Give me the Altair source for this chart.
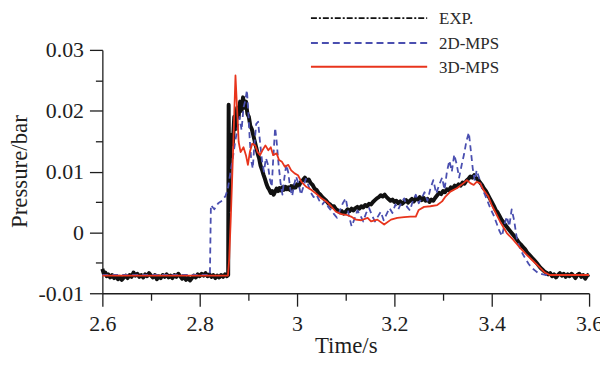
import altair as alt
import pandas as pd

# ---------------- data ----------------
series_names = ["EXP.", "2D-MPS", "3D-MPS"]

x_ticks = [2.6, 2.7, 2.8, 2.9, 3.0, 3.1, 3.2, 3.3, 3.4, 3.5, 3.6]
y_ticks = [-0.01, -0.005, 0.0, 0.005, 0.01, 0.015, 0.02, 0.025, 0.03]

exp_t = [
    2.600, 2.603, 2.606, 2.609, 2.612, 2.616, 2.620, 2.624, 2.628, 2.632,
    2.636, 2.640, 2.644, 2.648, 2.652, 2.656, 2.660, 2.664, 2.668, 2.672,
    2.676, 2.680, 2.684, 2.688, 2.692, 2.696, 2.700, 2.704, 2.708, 2.712,
    2.716, 2.720, 2.724, 2.728, 2.732, 2.736, 2.740, 2.744, 2.748, 2.752,
    2.756, 2.760, 2.764, 2.768, 2.772, 2.776, 2.780, 2.784, 2.788, 2.792,
    2.796, 2.800, 2.804, 2.808, 2.812, 2.816, 2.820, 2.824, 2.828, 2.832,
    2.836, 2.840, 2.844, 2.848, 2.852, 2.856, 2.8585, 2.8595, 2.8605, 2.862,
    2.865, 2.868, 2.871, 2.874, 2.877, 2.880, 2.883, 2.886, 2.889, 2.892,
    2.895, 2.898, 2.901, 2.904, 2.907, 2.910, 2.913, 2.916, 2.919, 2.922,
    2.925, 2.928, 2.931, 2.934, 2.937, 2.940, 2.943, 2.946, 2.949, 2.952,
    2.955, 2.958, 2.961, 2.964, 2.967, 2.970, 2.973, 2.976, 2.979, 2.982,
    2.985, 2.988, 2.991, 2.994, 2.997, 3.000, 3.004, 3.008, 3.012, 3.016,
    3.020, 3.024, 3.028, 3.032, 3.036, 3.040, 3.044, 3.048, 3.052, 3.056,
    3.060, 3.064, 3.068, 3.072, 3.076, 3.080, 3.084, 3.088, 3.092, 3.096,
    3.100, 3.104, 3.108, 3.112, 3.116, 3.120, 3.124, 3.128, 3.132, 3.136,
    3.140, 3.144, 3.148, 3.152, 3.156, 3.160, 3.164, 3.168, 3.172, 3.176,
    3.180, 3.184, 3.188, 3.192, 3.196, 3.200, 3.204, 3.208, 3.212, 3.216,
    3.220, 3.224, 3.228, 3.232, 3.236, 3.240, 3.244, 3.248, 3.252, 3.256,
    3.260, 3.264, 3.268, 3.272, 3.276, 3.280, 3.284, 3.288, 3.292, 3.296,
    3.300, 3.304, 3.308, 3.312, 3.316, 3.320, 3.324, 3.328, 3.332, 3.336,
    3.340, 3.344, 3.348, 3.352, 3.356, 3.360, 3.364, 3.368, 3.372, 3.376,
    3.380, 3.384, 3.388, 3.392, 3.396, 3.400, 3.404, 3.408, 3.412, 3.416,
    3.420, 3.424, 3.428, 3.432, 3.436, 3.440, 3.444, 3.448, 3.452, 3.456,
    3.460, 3.464, 3.468, 3.472, 3.476, 3.480, 3.484, 3.488, 3.492, 3.496,
    3.500, 3.504, 3.508, 3.512, 3.516, 3.520, 3.524, 3.528, 3.532, 3.536,
    3.540, 3.544, 3.548, 3.552, 3.556, 3.560, 3.564, 3.568, 3.572, 3.576,
    3.580, 3.584, 3.588, 3.592, 3.596, 3.600,
]
exp_p = [
    -0.0060, -0.0068, -0.0066, -0.0072, -0.0069, -0.0074, -0.0070, -0.0075, -0.0072, -0.0077,
    -0.0073, -0.0078, -0.0074, -0.0071, -0.0075, -0.0070, -0.0073, -0.0066, -0.0071, -0.0068,
    -0.0073, -0.0070, -0.0074, -0.0069, -0.0072, -0.0067, -0.0071, -0.0074, -0.0070, -0.0077,
    -0.0072, -0.0075, -0.0070, -0.0073, -0.0069, -0.0074, -0.0071, -0.0075, -0.0070, -0.0073,
    -0.0068, -0.0072, -0.0076, -0.0073, -0.0078, -0.0074, -0.0079, -0.0075, -0.0071, -0.0074,
    -0.0069, -0.0072, -0.0068, -0.0071, -0.0067, -0.0072, -0.0069, -0.0073, -0.0070, -0.0075,
    -0.0071, -0.0074, -0.0070, -0.0073, -0.0069, -0.0072, -0.0070, 0.0210, 0.0036, 0.0120,
    0.0160, 0.0145, 0.0190, 0.0170, 0.0205, 0.0190, 0.0215, 0.0200, 0.0222, 0.0205,
    0.0215, 0.0195, 0.0190, 0.0175, 0.0170, 0.0160, 0.0150, 0.0140, 0.0130, 0.0122,
    0.0110, 0.0103, 0.0095, 0.0088, 0.0080, 0.0074, 0.0070, 0.0065, 0.0068, 0.0062,
    0.0067, 0.0072, 0.0068, 0.0073, 0.0069, 0.0074, 0.0070, 0.0075, 0.0071, 0.0074,
    0.0070, 0.0076, 0.0072, 0.0077, 0.0074, 0.0079, 0.0077, 0.0083, 0.0086, 0.0090,
    0.0085, 0.0087, 0.0081, 0.0078, 0.0072, 0.0070, 0.0065, 0.0062, 0.0058, 0.0055,
    0.0052, 0.0048, 0.0046, 0.0042, 0.0043, 0.0038, 0.0036, 0.0033, 0.0035, 0.0031,
    0.0034, 0.0038, 0.0035, 0.0039, 0.0036, 0.0040, 0.0042, 0.0039, 0.0043, 0.0041,
    0.0045, 0.0043, 0.0047, 0.0046, 0.0050, 0.0053, 0.0056, 0.0058, 0.0061, 0.0059,
    0.0062, 0.0058, 0.0055, 0.0052, 0.0054, 0.0050, 0.0052, 0.0048, 0.0051, 0.0047,
    0.0050, 0.0053, 0.0049, 0.0052, 0.0055, 0.0051, 0.0056, 0.0054, 0.0058, 0.0053,
    0.0057, 0.0052, 0.0055, 0.0050, 0.0054, 0.0052, 0.0057, 0.0061, 0.0065, 0.0063,
    0.0068, 0.0066, 0.0071, 0.0069, 0.0074, 0.0072, 0.0077, 0.0075, 0.0079, 0.0077,
    0.0082, 0.0080, 0.0085, 0.0088, 0.0092, 0.0090, 0.0094, 0.0089, 0.0087, 0.0082,
    0.0078, 0.0072, 0.0068, 0.0062, 0.0056, 0.0050, 0.0044, 0.0037, 0.0033, 0.0027,
    0.0021, 0.0017, 0.0012, 0.0008, 0.0004, 0.0000, -0.0004, -0.0008, -0.0012, -0.0017,
    -0.0020, -0.0024, -0.0027, -0.0032, -0.0036, -0.0039, -0.0043, -0.0046, -0.0050, -0.0054,
    -0.0058, -0.0061, -0.0064, -0.0066, -0.0069, -0.0067, -0.0072, -0.0069, -0.0074, -0.0070,
    -0.0067, -0.0071, -0.0068, -0.0073, -0.0069, -0.0072, -0.0068, -0.0071, -0.0075, -0.0070,
    -0.0068, -0.0073, -0.0070, -0.0076, -0.0071, -0.0069,
]

mps2_t = [
    2.600, 2.821, 2.823, 2.830, 2.838, 2.846, 2.853, 2.858, 2.863, 2.868,
    2.873, 2.878, 2.882, 2.886, 2.890, 2.894, 2.897, 2.900, 2.903, 2.906,
    2.909, 2.912, 2.916, 2.920, 2.924, 2.928, 2.932, 2.936, 2.940, 2.944,
    2.948, 2.951, 2.955, 2.958, 2.962, 2.966, 2.970, 2.974, 2.978, 2.982,
    2.986, 2.990, 2.994, 2.998, 3.003, 3.008, 3.013, 3.018, 3.023, 3.028,
    3.034, 3.040, 3.046, 3.052, 3.058, 3.064, 3.070, 3.076, 3.082, 3.088,
    3.094, 3.100, 3.106, 3.112, 3.118, 3.124, 3.130, 3.136, 3.142, 3.148,
    3.154, 3.160, 3.166, 3.172, 3.178, 3.184, 3.190, 3.196, 3.202, 3.208,
    3.214, 3.220, 3.226, 3.232, 3.238, 3.244, 3.250, 3.256, 3.262, 3.268,
    3.274, 3.280, 3.286, 3.292, 3.298, 3.303, 3.308, 3.313, 3.318, 3.323,
    3.328, 3.333, 3.338, 3.343, 3.348, 3.353, 3.357, 3.361, 3.365, 3.369,
    3.374, 3.380, 3.386, 3.392, 3.398, 3.404, 3.410, 3.416, 3.421, 3.426,
    3.431, 3.436, 3.441, 3.446, 3.452, 3.458, 3.464, 3.470, 3.476, 3.482,
    3.488, 3.494, 3.500, 3.510, 3.600,
]
mps2_p = [
    -0.0070, -0.0070, 0.0045, 0.0038, 0.0048, 0.0052, 0.0060, 0.0072, 0.0098, 0.0122,
    0.0150, 0.0172, 0.0190, 0.0168, 0.0205, 0.0218, 0.0234, 0.0196, 0.0150, 0.0118,
    0.0105, 0.0140, 0.0178, 0.0182, 0.0148, 0.0118, 0.0100, 0.0122, 0.0112, 0.0088,
    0.0075, 0.0120, 0.0172, 0.0150, 0.0112, 0.0082, 0.0062, 0.0090, 0.0112, 0.0098,
    0.0072, 0.0060, 0.0078, 0.0092, 0.0080, 0.0062, 0.0075, 0.0088, 0.0078, 0.0066,
    0.0058, 0.0062, 0.0052, 0.0046, 0.0052, 0.0042, 0.0036, 0.0030, 0.0024, 0.0036,
    0.0048, 0.0056, 0.0030, 0.0010, 0.0022, 0.0036, 0.0028, 0.0018, 0.0032, 0.0040,
    0.0028, 0.0018, 0.0026, 0.0034, 0.0020, 0.0030, 0.0040, 0.0032, 0.0046, 0.0038,
    0.0048, 0.0056, 0.0042, 0.0036, 0.0052, 0.0062, 0.0048, 0.0056, 0.0066, 0.0052,
    0.0072, 0.0086, 0.0064, 0.0078, 0.0090, 0.0070, 0.0100, 0.0118, 0.0100, 0.0128,
    0.0112, 0.0090, 0.0110, 0.0128, 0.0150, 0.0164, 0.0135, 0.0105, 0.0085, 0.0102,
    0.0090, 0.0072, 0.0062, 0.0050, 0.0038, 0.0028, 0.0015, 0.0002, -0.0006, 0.0012,
    0.0026, 0.0010, 0.0038, 0.0020, -0.0012, -0.0026, -0.0036, -0.0044, -0.0052, -0.0058,
    -0.0062, -0.0066, -0.0068, -0.0070, -0.0070,
]

mps3_t = [
    2.600, 2.858, 2.8605, 2.8637, 2.868, 2.8735, 2.880, 2.884, 2.890, 2.895,
    2.899, 2.903, 2.908, 2.914, 2.919, 2.924, 2.929, 2.935, 2.941, 2.946,
    2.951, 2.958, 2.963, 2.969, 2.975, 2.982, 2.988, 2.995, 3.002, 3.009,
    3.019, 3.029, 3.039, 3.050, 3.060, 3.070, 3.080, 3.091, 3.101, 3.111,
    3.121, 3.132, 3.145, 3.152, 3.165, 3.179, 3.193, 3.206, 3.220, 3.233,
    3.244, 3.250, 3.261, 3.274, 3.288, 3.298, 3.305, 3.315, 3.329, 3.342,
    3.349, 3.356, 3.363, 3.369, 3.376, 3.383, 3.393, 3.400, 3.407, 3.417,
    3.431, 3.444, 3.458, 3.471, 3.485, 3.499, 3.509, 3.519, 3.600,
]
mps3_p = [
    -0.0071, -0.0071, -0.0045, 0.0020, 0.0120, 0.0258, 0.0149, 0.0132, 0.0140, 0.0127,
    0.0111, 0.0132, 0.0146, 0.0143, 0.0132, 0.0127, 0.0135, 0.0143, 0.0135, 0.0140,
    0.0127, 0.0130, 0.0119, 0.0116, 0.0108, 0.0111, 0.0102, 0.0097, 0.0094, 0.0083,
    0.0075, 0.0070, 0.0064, 0.0056, 0.0051, 0.0043, 0.0034, 0.0030, 0.0029, 0.0026,
    0.0021, 0.0020, 0.0024, 0.0018, 0.0021, 0.0013, 0.0021, 0.0024, 0.0025, 0.0026,
    0.0026, 0.0037, 0.0042, 0.0043, 0.0045, 0.0051, 0.0059, 0.0067, 0.0073, 0.0081,
    0.0086, 0.0081, 0.0078, 0.0083, 0.0081, 0.0070, 0.0059, 0.0045, 0.0034, 0.0018,
    -0.0001, -0.0012, -0.0025, -0.0036, -0.0047, -0.0058, -0.0066, -0.0070, -0.0070,
]

# ---------------- styling ----------------
FONT = "Liberation Serif"
INK = "#1e1e1e"
colors = {"EXP.": "#111111", "2D-MPS": "#4a4fb0", "3D-MPS": "#e8341c"}
legend_dash = {"EXP.": [6, 2, 2, 2], "2D-MPS": [7, 4], "3D-MPS": None}
legend_y = [-32, -7, 17]          # legend row positions (px, relative to plot top)

x_scale = alt.Scale(domain=[2.6, 3.6], nice=False, zero=False)
y_scale = alt.Scale(domain=[-0.01, 0.03], nice=False, zero=False)

common_axis = dict(
    grid=False,
    domainColor=INK, domainWidth=1.3,
    tickColor=INK, tickWidth=1.3,
    labelColor=INK, labelFont=FONT, labelFontSize=22,
    titleColor=INK, titleFont=FONT, titleFontSize=23, titleFontWeight="normal",
    labelOverlap=False, labelFlush=False,
)

x_axis = alt.Axis(
    values=x_ticks,
    title="Time/s",
    labelExpr="round(datum.value*10) % 2 == 0 ? '' + round(datum.value*10)/10 : ''",
    tickSize={"condition": {"test": "round(datum.value*10) % 2 == 0", "value": 13}, "value": 7},
    labelPadding=8,
    titleBaseline="alphabetic",
    titleY=60,
    **common_axis,
)
y_axis = alt.Axis(
    values=y_ticks,
    title="Pressure/bar",
    labelExpr="round(datum.value*1000) % 10 == 0 ? '' + round(datum.value*100)/100 : ''",
    tickSize={"condition": {"test": "round(datum.value*1000) % 10 == 0", "value": 13}, "value": 7},
    labelPadding=6,
    titleBaseline="alphabetic",
    titleAngle=-90,
    titleAlign="center",
    titleX=-76,
    titleY=122,
    **common_axis,
)


def line_layer(t, p, color, width, dash=None):
    df = pd.DataFrame({"t": t, "p": p})
    mk = dict(color=color, strokeWidth=width, strokeJoin="round")
    if dash:
        mk["strokeDash"] = dash
    return alt.Chart(df).mark_line(**mk).encode(
        x=alt.X("t:Q", scale=x_scale, axis=x_axis),
        y=alt.Y("p:Q", scale=y_scale, axis=y_axis),
    )


exp_layer = line_layer(exp_t, exp_p, colors["EXP."], 4.0)
mps2_layer = line_layer(mps2_t, mps2_p, colors["2D-MPS"], 1.8, [6, 4])
mps3_layer = line_layer(mps3_t, mps3_p, colors["3D-MPS"], 1.8)

# ---------------- legend (top, above plot area) ----------------
leg_df = pd.DataFrame({"name": series_names})
legend_layers = []
for i, name in enumerate(series_names):
    rule_kw = dict(color=colors[name], strokeWidth=2 if name != "EXP." else 1.6)
    if legend_dash[name]:
        rule_kw["strokeDash"] = legend_dash[name]
    rule = (
        alt.Chart(leg_df)
        .transform_filter(alt.datum.name == name)
        .mark_rule(**rule_kw)
        .encode(x=alt.value(210), x2=alt.value(327), y=alt.value(legend_y[i]))
    )
    txt = (
        alt.Chart(leg_df)
        .transform_filter(alt.datum.name == name)
        .mark_text(align="left", baseline="middle", font=FONT, fontSize=17, color="#2a2a2a")
        .encode(x=alt.value(339), y=alt.value(legend_y[i] + 1), text="name:N")
    )
    legend_layers += [rule, txt]

chart = (
    alt.layer(exp_layer, mps2_layer, mps3_layer, *legend_layers)
    .properties(
        width=490,
        height=245,
        autosize=alt.AutoSizeParams(type="none"),
        padding={"left": 95, "top": 41, "right": 11, "bottom": 63},
        background="white",
    )
    .configure(font=FONT)
    .configure_axis(labelFont=FONT, titleFont=FONT)
    .configure_text(font=FONT)
    .configure_view(stroke=None)
)

chart.save("out.html", embed_options={"renderer": "svg", "actions": False})
